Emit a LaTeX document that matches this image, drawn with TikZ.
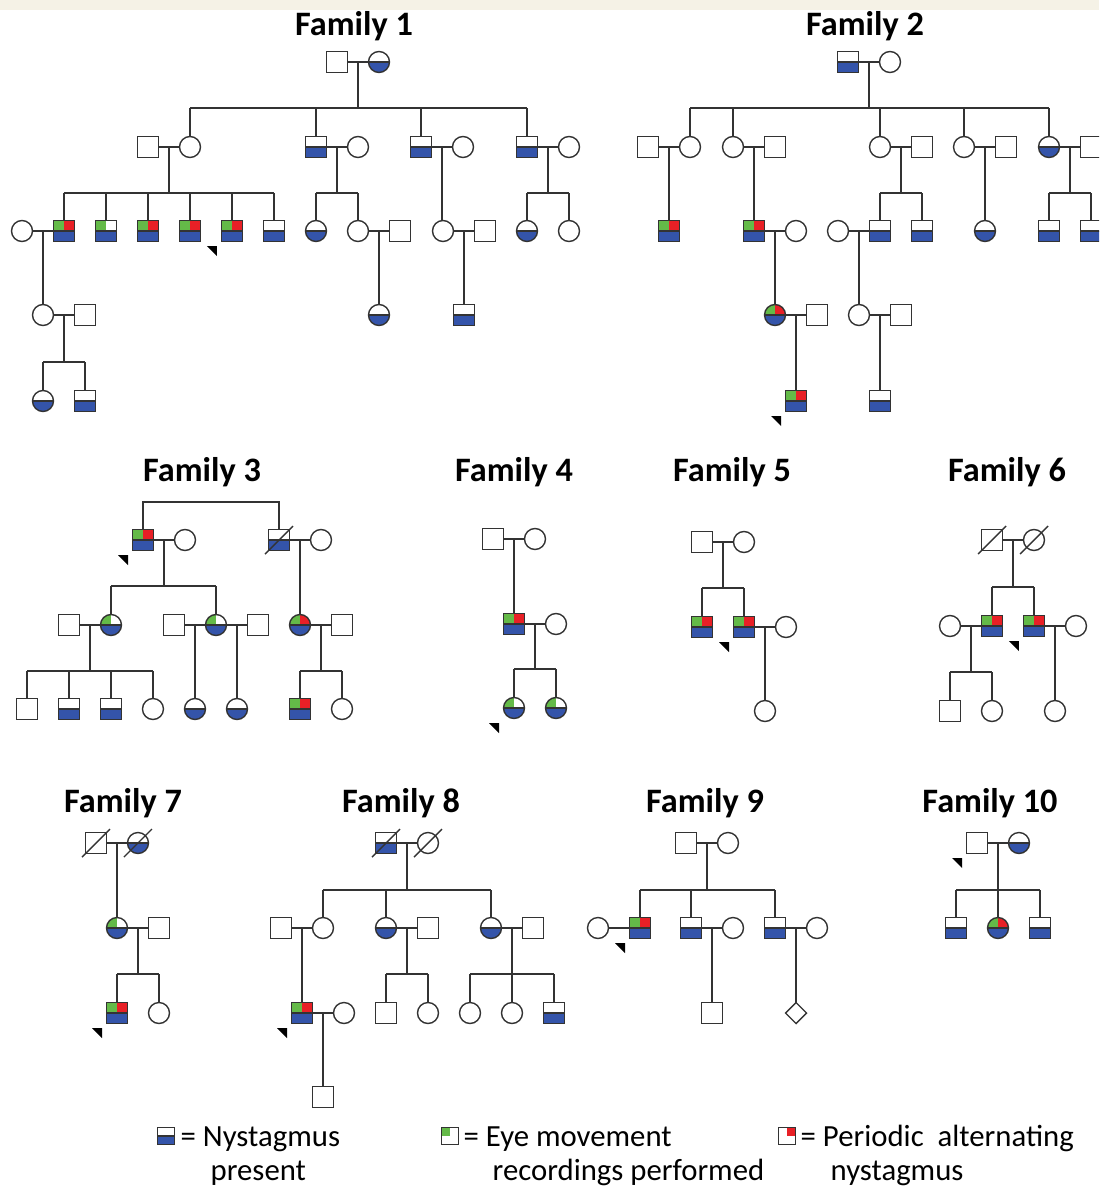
\documentclass[tikz,border=0pt]{standalone}
\usepackage{fontspec}
\setmainfont{Carlito}
\usepackage{tikz}
\usetikzlibrary{shapes.geometric,positioning,calc}

\definecolor{nblue}{RGB}{52,84,170}
\definecolor{ngreen}{RGB}{100,186,72}
\definecolor{nred}{RGB}{232,32,38}
\definecolor{band}{RGB}{245,242,230}

% pedigree helpers
\newcommand{\couple}[3]{\draw (#1) -- (#2); \coordinate (#3) at ($(#1)!.5!(#2)$);}
\newcommand{\onechild}[2]{\draw (#1) -- (#1 |- #2.north);}
\newcommand{\sibship}[5]{%
  \coordinate (sb) at (0,#2);
  \draw (#1) -- (#1 |- sb);
  \draw (#3 |- sb) -- (#4 |- sb);
  \foreach \k in {#5} {\draw (\k) -- (\k |- sb);}}
\newcommand{\deceased}[1]{\draw ([shift={(-14,14)}]#1.center) -- ([shift={(14,-14)}]#1.center);}
\newcommand{\proband}[1]{\fill[black] ([shift={(-25,15)}]#1.center) -- ([shift={(-15,15)}]#1.center) -- ([shift={(-15,25)}]#1.center) -- cycle;}

\begin{document}
\begin{tikzpicture}[
    x=0.02cm, y=-0.02cm, black!80, line width=0.8pt,
    node distance=0.42cm,
    person/.style={draw, fill=white, minimum size=0.42cm, inner sep=0pt, outer sep=0pt},
    male/.style={person, rectangle},
    female/.style={person, circle},
    unknown/.style={person, diamond},
    keybox/.style={person, rectangle, minimum size=0.35cm},
    nyst/.style={path picture={
        \fill[nblue] (path picture bounding box.south west) rectangle (path picture bounding box.east);
        \draw (path picture bounding box.west) -- (path picture bounding box.east);}},
    gb/.style={path picture={
        \fill[nblue] (path picture bounding box.south west) rectangle (path picture bounding box.east);
        \fill[ngreen] (path picture bounding box.north west) rectangle (path picture bounding box.center);
        \draw (path picture bounding box.west) -- (path picture bounding box.east);}},
    grb/.style={path picture={
        \fill[nblue] (path picture bounding box.south west) rectangle (path picture bounding box.east);
        \fill[ngreen] (path picture bounding box.north west) rectangle (path picture bounding box.center);
        \fill[nred] (path picture bounding box.north east) rectangle (path picture bounding box.center);
        \draw (path picture bounding box.west) -- (path picture bounding box.east);}},
    eye/.style={path picture={
        \fill[ngreen] (path picture bounding box.north west) rectangle (path picture bounding box.center);}},
    pan/.style={path picture={
        \fill[nred] (path picture bounding box.north east) rectangle (path picture bounding box.center);}},
    title/.style={font=\fontsize{19.5}{22}\selectfont\bfseries, text=black, anchor=base, inner sep=0pt},
    keytext/.style={font=\fontsize{17.5}{20}\selectfont, text=black, anchor=base west, inner sep=0pt}
]
\clip (0,0) rectangle (1099,1186);
\fill[white] (0,0) rectangle (1099,1186);
\fill[band] (0,0) rectangle (1099,10);

% Family 1
\node[title] (t1) at (354,36) {Family 1};
\node[male] (f1i1) at (337,62) {};
\node[female, nyst, right=of f1i1] (f1i2) {};
\node[male] (f1ii1) at (148,147) {};
\node[female, right=of f1ii1] (f1ii2) {};
\node[male, nyst] (f1ii3) at (316,147) {};
\node[female, right=of f1ii3] (f1ii4) {};
\node[male, nyst] (f1ii5) at (421,147) {};
\node[female, right=of f1ii5] (f1ii6) {};
\node[male, nyst] (f1ii7) at (527,147) {};
\node[female, right=of f1ii7] (f1ii8) {};
\node[female] (f1iii1) at (22,231) {};
\node[male, grb, right=of f1iii1] (f1iii2) {};
\node[male, gb, right=of f1iii2] (f1iii3) {};
\node[male, grb, right=of f1iii3] (f1iii4) {};
\node[male, grb, right=of f1iii4] (f1iii5) {};
\node[male, grb, right=of f1iii5] (f1iii6) {};
\node[male, nyst, right=of f1iii6] (f1iii7) {};
\node[female, nyst] (f1iii8) at (316,231) {};
\node[female, right=of f1iii8] (f1iii9) {};
\node[male, right=of f1iii9] (f1iii10) {};
\node[female] (f1iii11) at (443,231) {};
\node[male, right=of f1iii11] (f1iii12) {};
\node[female, nyst] (f1iii13) at (527,231) {};
\node[female, right=of f1iii13] (f1iii14) {};
\node[female] (f1iv1) at (43,315) {};
\node[male, right=of f1iv1] (f1iv2) {};
\node[female, nyst] (f1iv3) at (379,315) {};
\node[male, nyst] (f1iv4) at (464,315) {};
\node[female, nyst] (f1v1) at (43,401) {};
\node[male, nyst, right=of f1v1] (f1v2) {};

\couple{f1i1}{f1i2}{f1m1}
\sibship{f1m1}{108}{f1ii2}{f1ii7}{f1ii2,f1ii3,f1ii5,f1ii7}
\couple{f1ii1}{f1ii2}{f1m2}
\sibship{f1m2}{193}{f1iii2}{f1iii7}{f1iii2,f1iii3,f1iii4,f1iii5,f1iii6,f1iii7}
\couple{f1ii3}{f1ii4}{f1m3}
\sibship{f1m3}{193}{f1iii8}{f1iii9}{f1iii8,f1iii9}
\couple{f1ii5}{f1ii6}{f1m4}
\onechild{f1m4}{f1iii11}
\couple{f1ii7}{f1ii8}{f1m5}
\sibship{f1m5}{193}{f1iii13}{f1iii14}{f1iii13,f1iii14}
\couple{f1iii1}{f1iii2}{f1m6}
\onechild{f1m6}{f1iv1}
\couple{f1iii9}{f1iii10}{f1m7}
\onechild{f1m7}{f1iv3}
\couple{f1iii11}{f1iii12}{f1m8}
\onechild{f1m8}{f1iv4}
\couple{f1iv1}{f1iv2}{f1m9}
\sibship{f1m9}{362}{f1v1}{f1v2}{f1v1,f1v2}
\proband{f1iii6}

% Family 2
\node[title] (t2) at (865,36) {Family 2};
\node[male, nyst] (f2i1) at (848,62) {};
\node[female, right=of f2i1] (f2i2) {};
\node[male] (f2ii1) at (648,147) {};
\node[female, right=of f2ii1] (f2ii2) {};
\node[female] (f2ii3) at (733,147) {};
\node[male, right=of f2ii3] (f2ii4) {};
\node[female] (f2ii5) at (880,147) {};
\node[male, right=of f2ii5] (f2ii6) {};
\node[female] (f2ii7) at (964,147) {};
\node[male, right=of f2ii7] (f2ii8) {};
\node[female, nyst] (f2ii9) at (1049,147) {};
\node[male, right=of f2ii9] (f2ii10) {};
\node[male, grb] (f2iii1) at (669,231) {};
\node[male, grb] (f2iii2) at (754,231) {};
\node[female, right=of f2iii2] (f2iii3) {};
\node[female] (f2iii4) at (838,231) {};
\node[male, nyst, right=of f2iii4] (f2iii5) {};
\node[male, nyst, right=of f2iii5] (f2iii6) {};
\node[female, nyst] (f2iii7) at (985,231) {};
\node[male, nyst] (f2iii8) at (1049,231) {};
\node[male, nyst, right=of f2iii8] (f2iii9) {};
\node[female, grb] (f2iv1) at (775,315) {};
\node[male, right=of f2iv1] (f2iv2) {};
\node[female] (f2iv3) at (859,315) {};
\node[male, right=of f2iv3] (f2iv4) {};
\node[male, grb] (f2v1) at (796,401) {};
\node[male, nyst] (f2v2) at (880,401) {};

\couple{f2i1}{f2i2}{f2m1}
\sibship{f2m1}{108}{f2ii2}{f2ii9}{f2ii2,f2ii3,f2ii5,f2ii7,f2ii9}
\couple{f2ii1}{f2ii2}{f2m2}
\onechild{f2m2}{f2iii1}
\couple{f2ii3}{f2ii4}{f2m3}
\onechild{f2m3}{f2iii2}
\couple{f2ii5}{f2ii6}{f2m4}
\sibship{f2m4}{193}{f2iii5}{f2iii6}{f2iii5,f2iii6}
\couple{f2ii7}{f2ii8}{f2m5}
\onechild{f2m5}{f2iii7}
\couple{f2ii9}{f2ii10}{f2m6}
\sibship{f2m6}{193}{f2iii8}{f2iii9}{f2iii8,f2iii9}
\couple{f2iii2}{f2iii3}{f2m7}
\onechild{f2m7}{f2iv1}
\couple{f2iii4}{f2iii5}{f2m8}
\onechild{f2m8}{f2iv3}
\couple{f2iv1}{f2iv2}{f2m9}
\onechild{f2m9}{f2v1}
\couple{f2iv3}{f2iv4}{f2m10}
\onechild{f2m10}{f2v2}
\proband{f2v1}

% Family 3
\node[title] (t3) at (202,481) {Family 3};
\node[male, grb] (f3i1) at (143,540) {};
\node[female, right=of f3i1] (f3i2) {};
\node[male, nyst] (f3i3) at (279,540) {};
\node[female, right=of f3i3] (f3i4) {};
\node[male] (f3ii1) at (69,625) {};
\node[female, gb, right=of f3ii1] (f3ii2) {};
\node[male] (f3ii3) at (174,625) {};
\node[female, gb, right=of f3ii3] (f3ii4) {};
\node[male, right=of f3ii4] (f3ii5) {};
\node[female, grb] (f3ii6) at (300,625) {};
\node[male, right=of f3ii6] (f3ii7) {};
\node[male] (f3iii1) at (27,709) {};
\node[male, nyst, right=of f3iii1] (f3iii2) {};
\node[male, nyst, right=of f3iii2] (f3iii3) {};
\node[female, right=of f3iii3] (f3iii4) {};
\node[female, nyst] (f3iii5) at (195,709) {};
\node[female, nyst] (f3iii6) at (237,709) {};
\node[male, grb] (f3iii7) at (300,709) {};
\node[female, right=of f3iii7] (f3iii8) {};

\draw (f3i1.north) -- (f3i1.north |- 0,502) -| (f3i3.north);
\deceased{f3i3}
\couple{f3i1}{f3i2}{f3m1}
\sibship{f3m1}{586}{f3ii2}{f3ii4}{f3ii2,f3ii4}
\couple{f3i3}{f3i4}{f3m2}
\onechild{f3m2}{f3ii6}
\couple{f3ii1}{f3ii2}{f3m3}
\sibship{f3m3}{671}{f3iii1}{f3iii4}{f3iii1,f3iii2,f3iii3,f3iii4}
\couple{f3ii3}{f3ii4}{f3m4}
\onechild{f3m4}{f3iii5}
\couple{f3ii4}{f3ii5}{f3m5}
\onechild{f3m5}{f3iii6}
\couple{f3ii6}{f3ii7}{f3m6}
\sibship{f3m6}{671}{f3iii7}{f3iii8}{f3iii7,f3iii8}
\proband{f3i1}

% Family 4
\node[title] (t4) at (514,481) {Family 4};
\node[male] (f4i1) at (493,539) {};
\node[female, right=of f4i1] (f4i2) {};
\node[male, grb] (f4ii1) at (514,624) {};
\node[female, right=of f4ii1] (f4ii2) {};
\node[female, gb] (f4iii1) at (514,708) {};
\node[female, gb, right=of f4iii1] (f4iii2) {};

\couple{f4i1}{f4i2}{f4m1}
\onechild{f4m1}{f4ii1}
\couple{f4ii1}{f4ii2}{f4m2}
\sibship{f4m2}{669}{f4iii1}{f4iii2}{f4iii1,f4iii2}
\proband{f4iii1}

% Family 5
\node[title] (t5) at (732,481) {Family 5};
\node[male] (f5i1) at (702,542) {};
\node[female, right=of f5i1] (f5i2) {};
\node[male, grb] (f5ii1) at (702,627) {};
\node[male, grb, right=of f5ii1] (f5ii2) {};
\node[female, right=of f5ii2] (f5ii3) {};
\node[female] (f5iii1) at (765,711) {};

\couple{f5i1}{f5i2}{f5m1}
\sibship{f5m1}{588}{f5ii1}{f5ii2}{f5ii1,f5ii2}
\couple{f5ii2}{f5ii3}{f5m2}
\onechild{f5m2}{f5iii1}
\proband{f5ii2}

% Family 6
\node[title] (t6) at (1007,481) {Family 6};
\node[male] (f6i1) at (992,540) {};
\node[female, right=of f6i1] (f6i2) {};
\node[female] (f6ii1) at (950,626) {};
\node[male, grb, right=of f6ii1] (f6ii2) {};
\node[male, grb, right=of f6ii2] (f6ii3) {};
\node[female, right=of f6ii3] (f6ii4) {};
\node[male] (f6iii1) at (950,711) {};
\node[female, right=of f6iii1] (f6iii2) {};
\node[female] (f6iii3) at (1055,711) {};

\deceased{f6i1}
\deceased{f6i2}
\couple{f6i1}{f6i2}{f6m1}
\sibship{f6m1}{587}{f6ii2}{f6ii3}{f6ii2,f6ii3}
\couple{f6ii1}{f6ii2}{f6m2}
\sibship{f6m2}{672}{f6iii1}{f6iii2}{f6iii1,f6iii2}
\couple{f6ii3}{f6ii4}{f6m3}
\onechild{f6m3}{f6iii3}
\proband{f6ii3}

% Family 7
\node[title] (t7) at (123,812) {Family 7};
\node[male] (f7i1) at (96,843) {};
\node[female, nyst, right=of f7i1] (f7i2) {};
\node[female, gb] (f7ii1) at (117,928) {};
\node[male, right=of f7ii1] (f7ii2) {};
\node[male, grb] (f7iii1) at (117,1013) {};
\node[female, right=of f7iii1] (f7iii2) {};

\deceased{f7i1}
\deceased{f7i2}
\couple{f7i1}{f7i2}{f7m1}
\onechild{f7m1}{f7ii1}
\couple{f7ii1}{f7ii2}{f7m2}
\sibship{f7m2}{974}{f7iii1}{f7iii2}{f7iii1,f7iii2}
\proband{f7iii1}

% Family 8
\node[title] (t8) at (401,812) {Family 8};
\node[male, nyst] (f8i1) at (386,843) {};
\node[female, right=of f8i1] (f8i2) {};
\node[male] (f8ii1) at (281,928) {};
\node[female, right=of f8ii1] (f8ii2) {};
\node[female, nyst] (f8ii3) at (386,928) {};
\node[male, right=of f8ii3] (f8ii4) {};
\node[female, nyst] (f8ii5) at (491,928) {};
\node[male, right=of f8ii5] (f8ii6) {};
\node[male, grb] (f8iii1) at (302,1013) {};
\node[female, right=of f8iii1] (f8iii2) {};
\node[male] (f8iii3) at (386,1013) {};
\node[female, right=of f8iii3] (f8iii4) {};
\node[female] (f8iii5) at (470,1013) {};
\node[female, right=of f8iii5] (f8iii6) {};
\node[male, nyst, right=of f8iii6] (f8iii7) {};
\node[male] (f8iv1) at (323,1097) {};

\deceased{f8i1}
\deceased{f8i2}
\couple{f8i1}{f8i2}{f8m1}
\sibship{f8m1}{890}{f8ii2}{f8ii5}{f8ii2,f8ii3,f8ii5}
\couple{f8ii1}{f8ii2}{f8m2}
\onechild{f8m2}{f8iii1}
\couple{f8ii3}{f8ii4}{f8m3}
\sibship{f8m3}{974}{f8iii3}{f8iii4}{f8iii3,f8iii4}
\couple{f8ii5}{f8ii6}{f8m4}
\sibship{f8m4}{974}{f8iii5}{f8iii7}{f8iii5,f8iii6,f8iii7}
\couple{f8iii1}{f8iii2}{f8m5}
\onechild{f8m5}{f8iv1}
\proband{f8iii1}

% Family 9
\node[title] (t9) at (705,812) {Family 9};
\node[male] (f9i1) at (686,843) {};
\node[female, right=of f9i1] (f9i2) {};
\node[female] (f9ii1) at (598,928) {};
\node[male, grb, right=of f9ii1] (f9ii2) {};
\node[male, nyst] (f9ii3) at (691,928) {};
\node[female, right=of f9ii3] (f9ii4) {};
\node[male, nyst] (f9ii5) at (775,928) {};
\node[female, right=of f9ii5] (f9ii6) {};
\node[male] (f9iii1) at (712,1013) {};
\node[unknown] (f9iii2) at (796,1013) {};

\couple{f9i1}{f9i2}{f9m1}
\sibship{f9m1}{890}{f9ii2}{f9ii5}{f9ii2,f9ii3,f9ii5}
\couple{f9ii1}{f9ii2}{f9m2}
\couple{f9ii3}{f9ii4}{f9m3}
\onechild{f9m3}{f9iii1}
\couple{f9ii5}{f9ii6}{f9m4}
\onechild{f9m4}{f9iii2}
\proband{f9ii2}

% Family 10
\node[title] (t10) at (990,812) {Family 10};
\node[male] (f10i1) at (977,843) {};
\node[female, nyst, right=of f10i1] (f10i2) {};
\node[male, nyst] (f10ii1) at (956,928) {};
\node[female, grb, right=of f10ii1] (f10ii2) {};
\node[male, nyst, right=of f10ii2] (f10ii3) {};

\couple{f10i1}{f10i2}{f10m1}
\sibship{f10m1}{890}{f10ii1}{f10ii3}{f10ii1,f10ii2,f10ii3}
\proband{f10i1}

% Key
\node[keybox, nyst] (k1) at (166,1136) {};
\node[keytext] (k1a) at (180,1146) {= Nystagmus};
\node[keytext] (k1b) at (210,1180) {present};
\node[keybox, eye] (k2) at (450,1136) {};
\node[keytext] (k2a) at (463,1146) {= Eye movement};
\node[keytext] (k2b) at (492,1180) {recordings performed};
\node[keybox, pan] (k3) at (787,1136) {};
\node[keytext] (k3a) at (800,1146) {= Periodic\ \ alternating};
\node[keytext] (k3b) at (830,1180) {nystagmus};

\end{tikzpicture}
\end{document}
